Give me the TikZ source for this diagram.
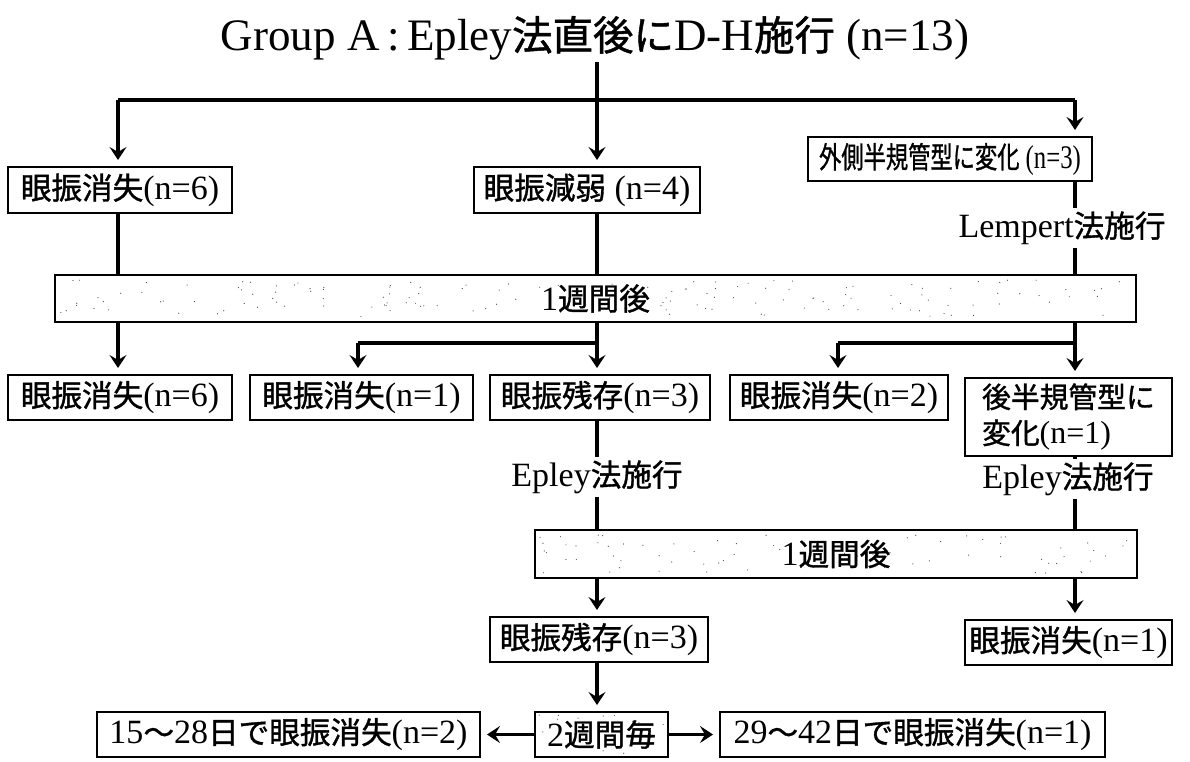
\documentclass[tikz,border=0pt]{standalone}
\usepackage{fontspec}
\usepackage{graphicx}
\setmainfont{Liberation Serif}
\newfontfamily\jp{Noto Sans CJK JP}[Scale=0.9,FakeBold=1.2]
\newcommand\J[1]{{\jp #1}}
\usetikzlibrary{arrows.meta}
\begin{document}
\begin{tikzpicture}[x=1pt,y=-1pt,
  box/.style={draw, line width=2pt, inner sep=0pt, align=center, font=\fontsize{34}{36}\selectfont},
  lbl/.style={inner sep=3pt, font=\fontsize{34}{36}\selectfont},
  conn/.style={line width=3.4pt},
  arr/.style={conn, -{Stealth[length=13pt,width=17pt,inset=5pt]}, shorten >=6pt},
  speck/.style={fill=black!70}]
\useasboundingbox (0,0) rectangle (1190,761);

% title
\node[font=\fontsize{45}{48}\selectfont] (title) at (595,38) {Group A\,:\,Epley\J{法直後に}D-H\J{施行} (n=13)};

% first row
\node[box, minimum width=224pt, minimum height=46pt] (A1) at (120,190) {\J{眼振消失}(n=6)};
\node[box, minimum width=226pt, minimum height=46pt] (A2) at (587,190) {\J{眼振減弱} (n=4)};
\node[box, minimum width=284pt, minimum height=44pt, font=\fontsize{33}{36}\selectfont] (A3) at (950,159) {\scalebox{0.75}[1]{\J{外側半規管型に変化} (n=3)}};
\node[lbl] (L1) at (1062,228) {Lempert\J{法施行}};

% bar 1
\node[box, minimum width=1081pt, minimum height=47pt] (Bar1) at (595.5,298.5) {};
\pgfmathsetseed{11}
\foreach \i in {1,...,150}{
  \pgfmathsetmacro\xx{60+1070*rnd}\pgfmathsetmacro\yy{280+37*rnd}
  \fill[speck] (\xx,\yy) circle (0.6pt);}
\node[lbl] (W1) at (Bar1.center) {1\J{週間後}};

% second row
\node[box, minimum width=224pt, minimum height=45pt] (B1) at (120,397.5) {\J{眼振消失}(n=6)};
\node[box, minimum width=223pt, minimum height=45pt] (B2) at (361.5,397.5) {\J{眼振消失}(n=1)};
\node[box, minimum width=220pt, minimum height=45pt] (B3) at (600,397.5) {\J{眼振残存}(n=3)};
\node[box, minimum width=218pt, minimum height=45pt] (B4) at (839,397.5) {\J{眼振消失}(n=2)};
\node[box, minimum width=207pt, minimum height=78pt, align=left, font=\fontsize{32}{36}\selectfont] (B5) at (1068.5,417) {\J{後半規管型に}\\\J{変化}(n=1)};

\node[lbl] (L2) at (597,477) {Epley\J{法施行}};
\node[lbl] (L3) at (1068,479) {Epley\J{法施行}};

% bar 2
\node[box, minimum width=602pt, minimum height=48pt] (Bar2) at (836,554) {};
\foreach \i in {1,...,80}{
  \pgfmathsetmacro\xx{540+592*rnd}\pgfmathsetmacro\yy{535+38*rnd}
  \fill[speck] (\xx,\yy) circle (0.6pt);}
\node[lbl] (W2) at (Bar2.center) {1\J{週間後}};

% third row
\node[box, minimum width=218pt, minimum height=45pt] (C1) at (599,639.5) {\J{眼振残存}(n=3)};
\node[box, minimum width=207pt, minimum height=45pt] (C2) at (1068.5,642.5) {\J{眼振消失}(n=1)};

% bottom row
\node[box, minimum width=383pt, minimum height=45pt] (D1) at (288.5,734.5) {15\J{〜}28\J{日で眼振消失}(n=2)};
\node[box, minimum width=133pt, minimum height=45pt] (D2) at (601.5,734.5) {};
\foreach \i in {1,...,14}{
  \pgfmathsetmacro\xx{538+127*rnd}\pgfmathsetmacro\yy{715+39*rnd}
  \fill[speck] (\xx,\yy) circle (0.6pt);}
\node[lbl] (W3) at (D2.center) {2\J{週間毎}};
\node[box, minimum width=385pt, minimum height=45pt] (D3) at (912.5,734.5) {29\J{〜}42\J{日で眼振消失}(n=1)};

% connectors
\coordinate (t) at (597,62);
\coordinate (h1) at (118,100);
\coordinate (h2) at (1075,100);
\draw[arr] (t) -- (t |- A2.north);
\draw[conn] (h1) -- (h2);
\draw[arr] (h1) -- (h1 |- A1.north);
\draw[arr] (h2) -- (h2 |- A3.north);

\draw[conn] (h1 |- A1.south) -- (h1 |- Bar1.north);
\draw[conn] (t |- A2.south) -- (t |- Bar1.north);
\draw[conn] (h2 |- A3.south) -- (h2 |- L1.north);
\draw[conn] (h2 |- L1.south) -- (h2 |- Bar1.north);

\draw[arr] (h1 |- Bar1.south) -- (h1 |- B1.north);
\coordinate (j1) at (597,343);
\coordinate (j1l) at (358,343);
\coordinate (j2) at (1075,343);
\coordinate (j2l) at (838,343);
\draw[conn] (j1 |- Bar1.south) -- (j1) -- (j1l);
\draw[arr] (j1l) -- (j1l |- B2.north);
\draw[arr] (j1) -- (j1 |- B3.north);
\draw[conn] (j2 |- Bar1.south) -- (j2) -- (j2l);
\draw[arr] (j2l) -- (j2l |- B4.north);
\draw[arr] (j2) -- (j2 |- B5.north);

\draw[conn] (j1 |- B3.south) -- (j1 |- L2.north);
\draw[conn] (j1 |- L2.south) -- (j1 |- Bar2.north);
\draw[conn] (j2 |- B5.south) -- (j2 |- L3.north);
\draw[conn] (j2 |- L3.south) -- (j2 |- Bar2.north);

\draw[arr] (j1 |- Bar2.south) -- (j1 |- C1.north);
\draw[arr] (j2 |- Bar2.south) -- (j2 |- C2.north);
\draw[arr] (j1 |- C1.south) -- (j1 |- D2.north);
\draw[arr] (D2.west) -- (D1.east);
\draw[arr] (D2.east) -- (D3.west);
\end{tikzpicture}
\end{document}
